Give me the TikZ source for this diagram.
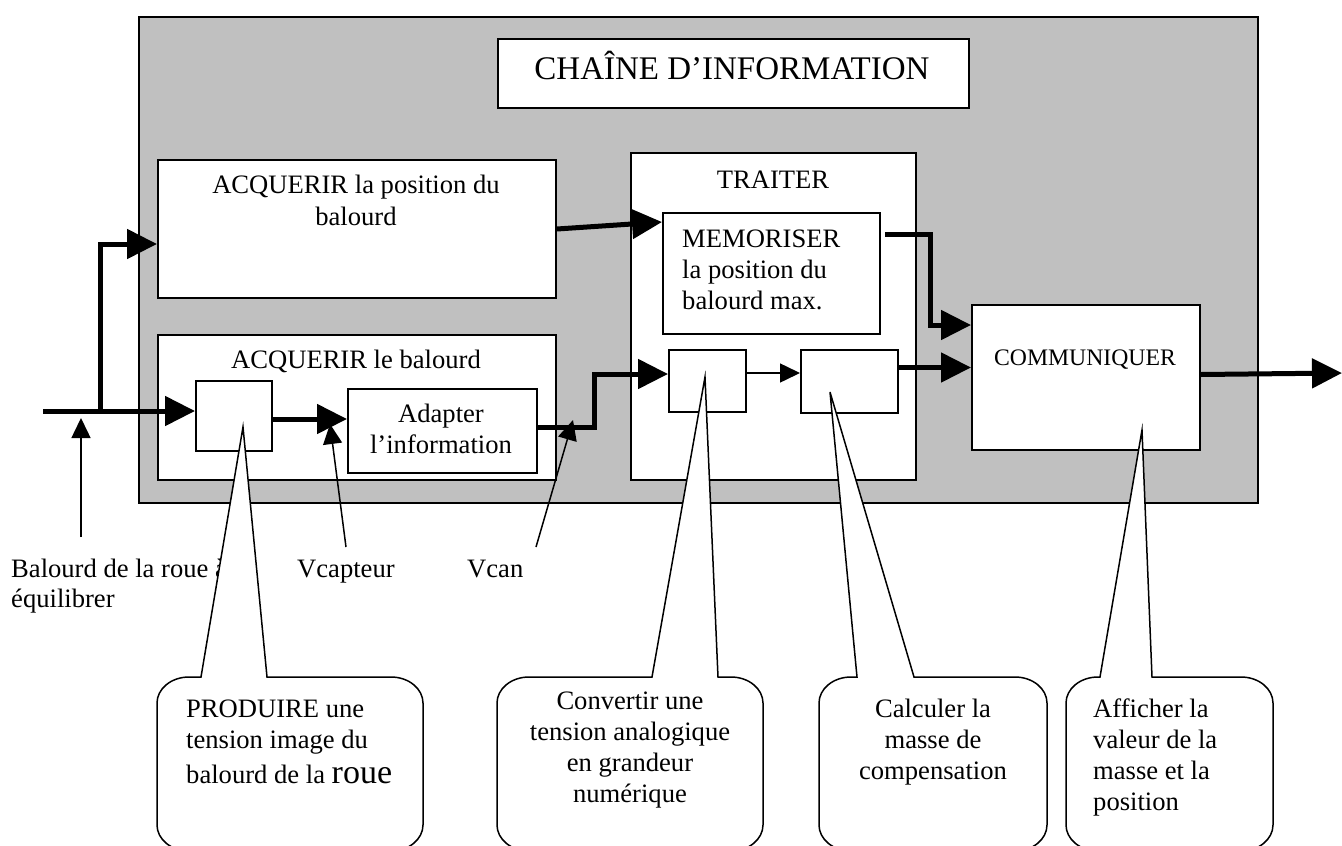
\documentclass[tikz,border=0pt]{standalone}
\usepackage{fontspec}
\setmainfont{Liberation Serif}
\usetikzlibrary{arrows.meta,calc}
\definecolor{chaingray}{RGB}{192,192,192}
\newcommand{\mytabc}[1]{\begin{tabular}[t]{@{}c@{}}#1\end{tabular}}
\newcommand{\mytabl}[1]{\begin{tabular}[t]{@{}l@{}}#1\end{tabular}}
% callout: #1 left, #2 right, #3 pointer left base x, #4 pointer right base x, #5 tip
\newcommand{\calloutshape}[5]{%
  \draw[callout] (#3,677) -- (#5) -- (#4,677) -- ({#2-32},677)
    .. controls ({#2-14},677) and (#2,689) .. (#2,703) -- (#2,825)
    .. controls (#2,839) and ({#2-14},851) .. ({#2-32},851) -- ({#1+32},851)
    .. controls ({#1+14},851) and (#1,839) .. (#1,825) -- (#1,703)
    .. controls (#1,689) and ({#1+14},677) .. ({#1+32},677) -- cycle;}
\begin{document}
\begin{tikzpicture}[x=1pt,y=-1pt,
  box/.style={draw=black,line width=2pt,fill=white,inner sep=0pt,anchor=north west},
  txt/.style={inner sep=0pt,anchor=base,font=\fontsize{26.6}{31}\selectfont},
  txtl/.style={txt,anchor=base west},
  flow/.style={line width=5pt,-{Triangle[length=30pt,width=29pt]}},
  thinarrow/.style={line width=1.5pt,-{Triangle[length=20pt,width=19pt]}},
  callout/.style={draw=black,line width=1.5pt,fill=white}]
\useasboundingbox (0,0) rectangle (1342,846);
\clip (0,0) rectangle (1342,846);

% main frame
\node[box,fill=chaingray,minimum width=1119pt,minimum height=486pt] (chain) at (138,16) {};
\node[box,minimum width=471pt,minimum height=69pt] (title) at (497,38) {};
\node[txt,font=\fontsize{33}{38}\selectfont] (titleT) at (732,79) {CHAÎNE D’INFORMATION};

% acquisition blocks
\node[box,minimum width=398pt,minimum height=138pt] (acqpos) at (157,159) {};
\node[txt] (acqposT) at (356,193) {\mytabc{ACQUERIR la position du\\[1pt] balourd}};
\node[box,minimum width=398pt,minimum height=145pt] (acqbal) at (157,334) {};
\node[txt] (acqbalT) at (356,368) {ACQUERIR le balourd};
\node[box,minimum width=76pt,minimum height=70pt] (P) at (195,380) {};
\node[box,minimum width=189pt,minimum height=84pt] (adapt) at (347,388) {};
\node[txt] (adaptT) at (441,422) {\mytabc{Adapter\\ l’information}};

% traiter
\node[box,minimum width=285pt,minimum height=327pt] (traiter) at (630,152) {};
\node[txt] (traiterT) at (773,188) {TRAITER};
\node[box,minimum width=217pt,minimum height=121pt] (memo) at (662,212) {};
\node[txtl] (memoT) at (682,247) {\mytabl{MEMORISER\\ la position du\\ balourd max.}};
\node[box,minimum width=77pt,minimum height=62pt] (A) at (668,349) {};
\node[box,minimum width=97pt,minimum height=63pt] (B) at (800,349) {};

% communiquer
\node[box,minimum width=228pt,minimum height=145pt] (comm) at (971,304) {};
\node[txt,font=\fontsize{23.7}{28}\selectfont] (commT) at (1085,365) {COMMUNIQUER};

% flow arrows
\coordinate (in) at (43,411);
\coordinate (split) at (100,411);
\coordinate (br) at (100,244);
\coordinate (out) at (1342,373);
\draw[flow] (in) -- (in -| P.west);
\draw[flow] (split) -- (br) -- (br -| acqpos.west);
\draw[flow] ([yshift=-3pt]P.east) -- ([yshift=-3pt]P.east -| adapt.west);
\draw[flow] ([yshift=4pt]adapt.east) -- ++(56,0) |- ([yshift=7pt]A.west);
\draw[flow] (acqpos.east) -- ([yshift=-10pt]memo.north west);
\draw[thinarrow] ([yshift=8pt]A.east) -- ([yshift=8pt]A.east -| B.west);
\draw[flow] ([yshift=14pt]B.east) -- ([yshift=14pt]B.east -| comm.west);
\draw[flow] ([xshift=4pt,yshift=-22pt]memo.north east) -- ++(45,0) |- ([yshift=-21pt]comm.north west);
\draw[flow] ([yshift=3pt]comm.east) -- (out);

% signal labels
\node[txtl] (balT) at (11,577) {\mytabl{Balourd de la roue à\\[-1pt] équilibrer}};
\node[txtl] (vcapT) at (297,577) {Vcapteur};
\node[txtl] (vcanT) at (467,577) {Vcan};
\coordinate (balS) at (81,537);   \coordinate (balE) at (81,418);
\coordinate (vcapS) at (346,547); \coordinate (vcapE) at (330,424);
\coordinate (vcanS) at (536,547); \coordinate (vcanE) at (573,420);
\draw[thinarrow] (balS) -- (balE);
\draw[thinarrow] (vcapS) -- (vcapE);
\draw[thinarrow] (vcanS) -- (vcanE);

% callouts
\coordinate (tipP) at (243,427);
\coordinate (tipA) at (705,377);
\coordinate (tipB) at (830,392);
\coordinate (tipC) at (1142,430);
\calloutshape{157}{423}{201}{267}{tipP}
\calloutshape{497}{763}{652}{718}{tipA}
\calloutshape{819}{1047}{857}{914}{tipB}
\calloutshape{1066}{1273}{1100}{1152}{tipC}
\node[txtl] (prodT) at (186,717) {\mytabl{PRODUIRE une\\ tension image du\\[4pt] balourd de la {\fontsize{34}{38}\selectfont roue}}};
\node[txt] (convT) at (630,709) {\mytabc{Convertir une\\ tension analogique\\ en grandeur\\ numérique}};
\node[txt] (calcT) at (933,717) {\mytabc{Calculer la\\ masse de\\ compensation}};
\node[txtl] (affT) at (1093,717) {\mytabl{Afficher la\\ valeur de la\\ masse et la\\ position}};
\end{tikzpicture}
\end{document}
